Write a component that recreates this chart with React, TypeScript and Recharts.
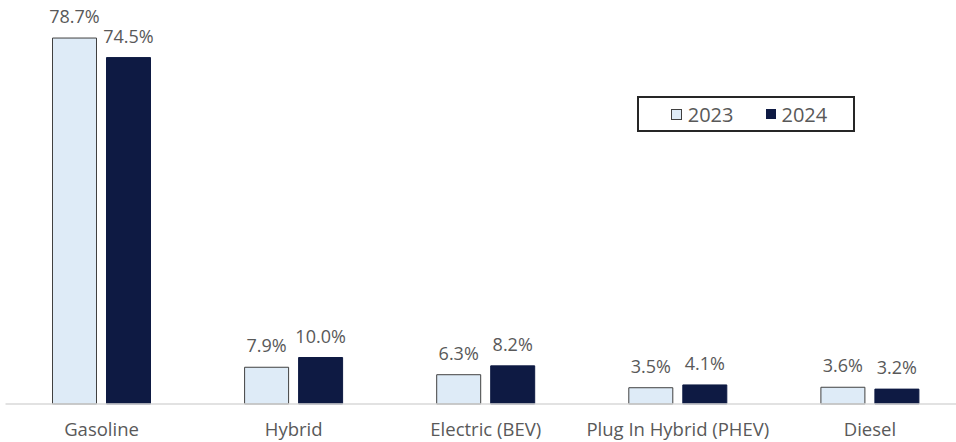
import React from 'react';
import { BarChart, Bar, XAxis, YAxis, LabelList } from 'recharts';

// Fuel type share by year
const categories = ['Gasoline', 'Hybrid', 'Electric (BEV)', 'Plug In Hybrid (PHEV)', 'Diesel'];
const share2023 = [78.7, 7.9, 6.3, 3.5, 3.6];
const share2024 = [74.5, 10.0, 8.2, 4.1, 3.2];
const seriesNames = ['2023', '2024'];

const data = categories.map((name, i) => ({ name, y2023: share2023[i], y2024: share2024[i] }));

const FONT = '"Open Sans", "Liberation Sans", sans-serif';
const GREY = '#595959';
const LIGHT = '#deebf7';
const NAVY = '#0e1a43';

// legend box drawn on top of the chart, like the Excel one
const LegendBox = () => (
    <div
        style={{
            position: 'absolute',
            left: 637,
            top: 96,
            boxSizing: 'border-box',
            width: 218,
            height: 36,
            border: '2px solid #262626',
            display: 'flex',
            alignItems: 'center',
            justifyContent: 'center',
            fontFamily: FONT,
            fontSize: 20,
            color: GREY,
            background: '#fff',
            paddingLeft: 6,
        }}
    >
        <span style={{ width: 11, height: 11, boxSizing: 'border-box', background: LIGHT, border: '1px solid #404040', marginRight: 6 }} />
        <span style={{ marginRight: 32 }}>{seriesNames[0]}</span>
        <span style={{ width: 10, height: 10, background: NAVY, marginRight: 6 }} />
        <span>{seriesNames[1]}</span>
    </div>
);

const labelStyle = { fill: GREY, fontSize: 18, fontFamily: FONT };

export default function App() {
    return (
        <div style={{ position: 'fixed', left: 0, top: 0, width: 956, height: 442, overflow: 'hidden', background: '#fff' }}>
            <BarChart
                width={966}
                height={442}
                data={data}
                margin={{ top: 32, right: 0, left: 5.5, bottom: 0 }}
                barSize={44}
                barGap={10}
            >
                <XAxis
                    dataKey="name"
                    height={38}
                    axisLine={{ stroke: '#d9d9d9', strokeWidth: 1.5 }}
                    tickLine={false}
                    tickMargin={13}
                    interval={0}
                    tick={{ fill: GREY, fontSize: 18.5, fontFamily: FONT }}
                />
                <YAxis hide domain={[0, 80]} />
                <Bar dataKey="y2023" name={seriesNames[0]} fill={LIGHT} stroke="#404040" strokeWidth={1} isAnimationActive={false}>
                    <LabelList
                        dataKey="y2023"
                        position="top"
                        offset={15}
                        formatter={(v: number) => `${v.toFixed(1)}%`}
                        style={labelStyle}
                    />
                </Bar>
                <Bar dataKey="y2024" name={seriesNames[1]} fill={NAVY} stroke={NAVY} strokeWidth={1} isAnimationActive={false}>
                    <LabelList
                        dataKey="y2024"
                        position="top"
                        offset={15}
                        formatter={(v: number) => `${v.toFixed(1)}%`}
                        style={labelStyle}
                    />
                </Bar>
            </BarChart>
            <LegendBox />
        </div>
    );
}
